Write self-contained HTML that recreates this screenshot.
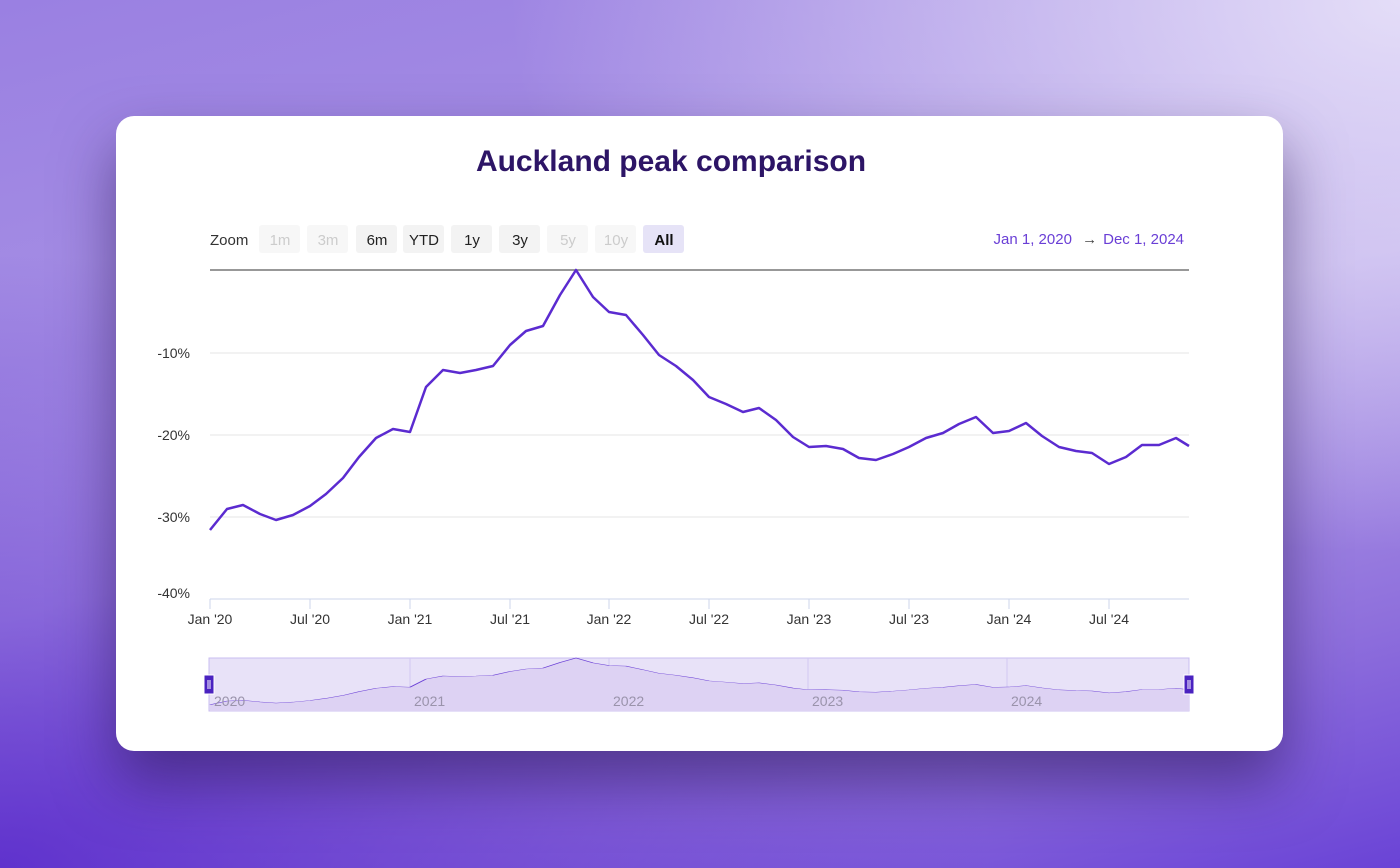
<!DOCTYPE html>
<html><head><meta charset="utf-8"><style>
html,body{margin:0;padding:0;width:1400px;height:868px;overflow:hidden}
body{background:linear-gradient(165deg,#9a80e2 0%,#a58ee4 30%,#b9a7ea 50%,#8e6fdc 80%,#6a43d6 100%);position:relative;font-family:"Liberation Sans",sans-serif}
.bg2{position:absolute;inset:0;background:radial-gradient(ellipse at 100% 0%,rgba(235,230,250,.9) 0%,rgba(235,230,250,0) 45%),radial-gradient(ellipse at 0% 100%,rgba(80,30,200,.8) 0%,rgba(80,30,200,0) 50%)}
.card{position:absolute;left:116px;top:116px;width:1167px;height:635px;background:#fff;border-radius:18px;box-shadow:0 30px 60px rgba(40,20,80,.55)}
svg{position:absolute;left:0;top:0}
</style></head><body><div class="bg2"></div><div class="card"></div>
<svg width="1400" height="868" font-family="Liberation Sans, sans-serif">
<text x="671" y="171" text-anchor="middle" font-size="30" font-weight="bold" fill="#2d1566">Auckland peak comparison</text>
<text x="210" y="245" font-size="15" fill="#333">Zoom</text>
<g font-size="15" text-anchor="middle">
<rect x="259" y="225" width="41" height="28" rx="3" fill="#f7f7f7"/><text x="280" y="245" fill="#ccc">1m</text>
<rect x="307" y="225" width="41" height="28" rx="3" fill="#f7f7f7"/><text x="328" y="245" fill="#ccc">3m</text>
<rect x="356" y="225" width="41" height="28" rx="3" fill="#f3f3f3"/><text x="377" y="245" fill="#222">6m</text>
<rect x="403" y="225" width="41" height="28" rx="3" fill="#f3f3f3"/><text x="424" y="245" fill="#222">YTD</text>
<rect x="451" y="225" width="41" height="28" rx="3" fill="#f3f3f3"/><text x="472" y="245" fill="#222">1y</text>
<rect x="499" y="225" width="41" height="28" rx="3" fill="#f3f3f3"/><text x="520" y="245" fill="#222">3y</text>
<rect x="547" y="225" width="41" height="28" rx="3" fill="#f7f7f7"/><text x="568" y="245" fill="#ccc">5y</text>
<rect x="595" y="225" width="41" height="28" rx="3" fill="#f7f7f7"/><text x="616" y="245" fill="#ccc">10y</text>
<rect x="643" y="225" width="41" height="28" rx="3" fill="#e6e3f7"/><text x="664" y="245" fill="#111" font-weight="bold">All</text>
</g>
<text x="1184" y="244" font-size="15" text-anchor="end" fill="#6a3fd6">Jan 1, 2020 <tspan fill="#444" dx="6">→</tspan><tspan dx="6">Dec 1, 2024</tspan></text>
<g stroke="#e6e6e6" stroke-width="1">
<line x1="210" y1="353" x2="1189" y2="353"/><line x1="210" y1="435" x2="1189" y2="435"/><line x1="210" y1="517" x2="1189" y2="517"/>
</g>
<line x1="210" y1="270" x2="1189" y2="270" stroke="#777" stroke-width="1.5"/>
<line x1="210" y1="599" x2="1189" y2="599" stroke="#ccd6eb" stroke-width="1"/>
<g stroke="#ccd6eb"><line x1="210" y1="599" x2="210" y2="609"/><line x1="310" y1="599" x2="310" y2="609"/><line x1="410" y1="599" x2="410" y2="609"/><line x1="510" y1="599" x2="510" y2="609"/><line x1="609" y1="599" x2="609" y2="609"/><line x1="709" y1="599" x2="709" y2="609"/><line x1="809" y1="599" x2="809" y2="609"/><line x1="909" y1="599" x2="909" y2="609"/><line x1="1009" y1="599" x2="1009" y2="609"/><line x1="1109" y1="599" x2="1109" y2="609"/></g>
<g font-size="14" fill="#333" text-anchor="end"><text x="190" y="358">-10%</text><text x="190" y="440">-20%</text><text x="190" y="522">-30%</text><text x="190" y="598">-40%</text></g>
<g font-size="14" fill="#333" text-anchor="middle"><text x="210" y="624">Jan '20</text><text x="310" y="624">Jul '20</text><text x="410" y="624">Jan '21</text><text x="510" y="624">Jul '21</text><text x="609" y="624">Jan '22</text><text x="709" y="624">Jul '22</text><text x="809" y="624">Jan '23</text><text x="909" y="624">Jul '23</text><text x="1009" y="624">Jan '24</text><text x="1109" y="624">Jul '24</text></g>
<defs><polyline id="d" points="210,530 227,509 243,505 260,514 276,520 293,515 310,506 326,494 343,478 359,457 376,438 393,429 410,432 426,387 443,370 460,373 476,370 493,366 510,345 526,331 543,326 560,295 576,270 593,297 609,312 626,315 643,335 659,355 676,366 693,380 709,397 726,404 743,412 759,408 776,420 793,437 809,447 826,446 843,449 859,458 876,460 893,454 909,447 926,438 943,433 959,424 976,417 993,433 1009,431 1026,423 1042,436 1059,447 1076,451 1092,453 1109,464 1126,457 1142,445 1159,445 1176,438 1189,446"/></defs>
<use href="#d" fill="none" stroke="#5b2bd0" stroke-width="2.5" stroke-linejoin="round"/>
<rect x="209" y="658" width="980" height="53" fill="#e8e2f8" stroke="#c9bdf0"/>
<g stroke="#d2c8f2"><line x1="410" y1="658" x2="410" y2="711"/><line x1="609" y1="658" x2="609" y2="711"/><line x1="808" y1="658" x2="808" y2="711"/><line x1="1007" y1="658" x2="1007" y2="711"/></g>
<g transform="matrix(1 0 0 0.18 0 609.4)"><polygon points="210,530 227,509 243,505 260,514 276,520 293,515 310,506 326,494 343,478 359,457 376,438 393,429 410,432 426,387 443,370 460,373 476,370 493,366 510,345 526,331 543,326 560,295 576,270 593,297 609,312 626,315 643,335 659,355 676,366 693,380 709,397 726,404 743,412 759,408 776,420 793,437 809,447 826,446 843,449 859,458 876,460 893,454 909,447 926,438 943,433 959,424 976,417 993,433 1009,431 1026,423 1042,436 1059,447 1076,451 1092,453 1109,464 1126,457 1142,445 1159,445 1176,438 1189,446 1189,565 210,565" fill="#ddd2f3"/>
<use href="#d" fill="none" stroke="#6a3fd6" stroke-width="2" vector-effect="non-scaling-stroke"/></g>
<g font-size="14" fill="#9a93ab"><text x="214" y="706">2020</text><text x="414" y="706">2021</text><text x="613" y="706">2022</text><text x="812" y="706">2023</text><text x="1011" y="706">2024</text></g>
<rect x="204" y="675" width="10" height="19" fill="#4a22c0" stroke="#fff"/><line x1="208" y1="680" x2="208" y2="689" stroke="#fff"/><line x1="210" y1="680" x2="210" y2="689" stroke="#fff"/>
<rect x="1184" y="675" width="10" height="19" fill="#4a22c0" stroke="#fff"/><line x1="1188" y1="680" x2="1188" y2="689" stroke="#fff"/><line x1="1190" y1="680" x2="1190" y2="689" stroke="#fff"/>
</svg></body></html>
